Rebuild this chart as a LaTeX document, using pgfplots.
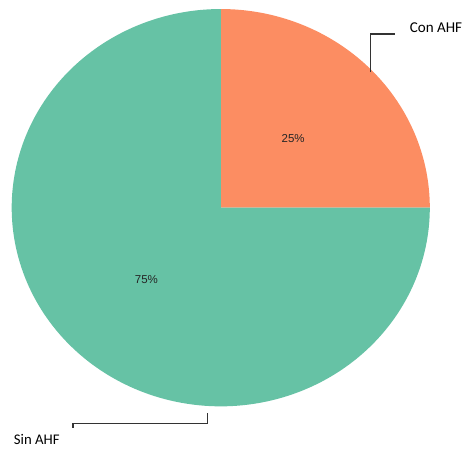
\documentclass[border=0pt]{standalone}
\usepackage{fontspec}
\setmainfont{Carlito}
\newfontfamily\pctfont{Liberation Sans}
\usepackage{pgfplots}
\usepackage{pgfplotstable}
\pgfplotsset{compat=1.18}
\definecolor{cgreen}{HTML}{66C2A5}
\definecolor{corange}{HTML}{FC8D62}
\definecolor{cline}{HTML}{333333}
\pgfplotstableread{
label value
Con 25
Sin 75
}\piedata
\begin{document}
\pgfplotstablegetelem{0}{value}\of\piedata\let\valA\pgfplotsretval
\pgfplotstablegetelem{1}{value}\of\piedata\let\valB\pgfplotsretval
\pgfmathsetmacro{\aStart}{90-\valA*3.6}
\pgfmathsetmacro{\bStart}{90-(\valA+\valB)*3.6}
\pgfmathsetmacro{\bEnd}{\aStart}
\begin{tikzpicture}
\begin{axis}[
  width=466bp, height=455bp, scale only axis,
  xmin=7, xmax=464, ymin=8, ymax=455,
  hide axis, clip=false, xtick=\empty, ytick=\empty,
]
\coordinate (BL) at (axis cs:7,8);
\coordinate (TR) at (axis cs:464,455);
\addplot[fill=corange, draw=none, domain=\aStart:90, samples=90]
  ({220+208*cos(x)},{248+198*sin(x)}) -- (axis cs:220,248) -- cycle;
\addplot[fill=cgreen, draw=none, domain=\bStart:\bEnd, samples=240]
  ({220+208*cos(x)},{248+198*sin(x)}) -- (axis cs:220,248) -- cycle;
\node[font=\pctfont\fontsize{11.7}{14}\selectfont, text=black!85] at (axis cs:292,317) {\valA\%};
\node[font=\pctfont\fontsize{11.7}{14}\selectfont, text=black!85] at (axis cs:146,176) {\valB\%};
\draw[cline, line width=1.5bp] (axis cs:369,383) -- (axis cs:369,421) -- (axis cs:393,421);
\node[anchor=west, font=\fontsize{15.3}{18}\selectfont, inner sep=0pt] at (axis cs:408,427) {Con AHF};
\draw[cline, line width=1.5bp] (axis cs:207,43) -- (axis cs:207,33) -- (axis cs:73,33) -- (axis cs:73,28);
\node[anchor=west, font=\fontsize{15}{18}\selectfont, inner sep=0pt] at (axis cs:14,17) {Sin AHF};
\end{axis}
\pgfresetboundingbox
\useasboundingbox (BL) rectangle (TR);
\end{tikzpicture}
\end{document}
